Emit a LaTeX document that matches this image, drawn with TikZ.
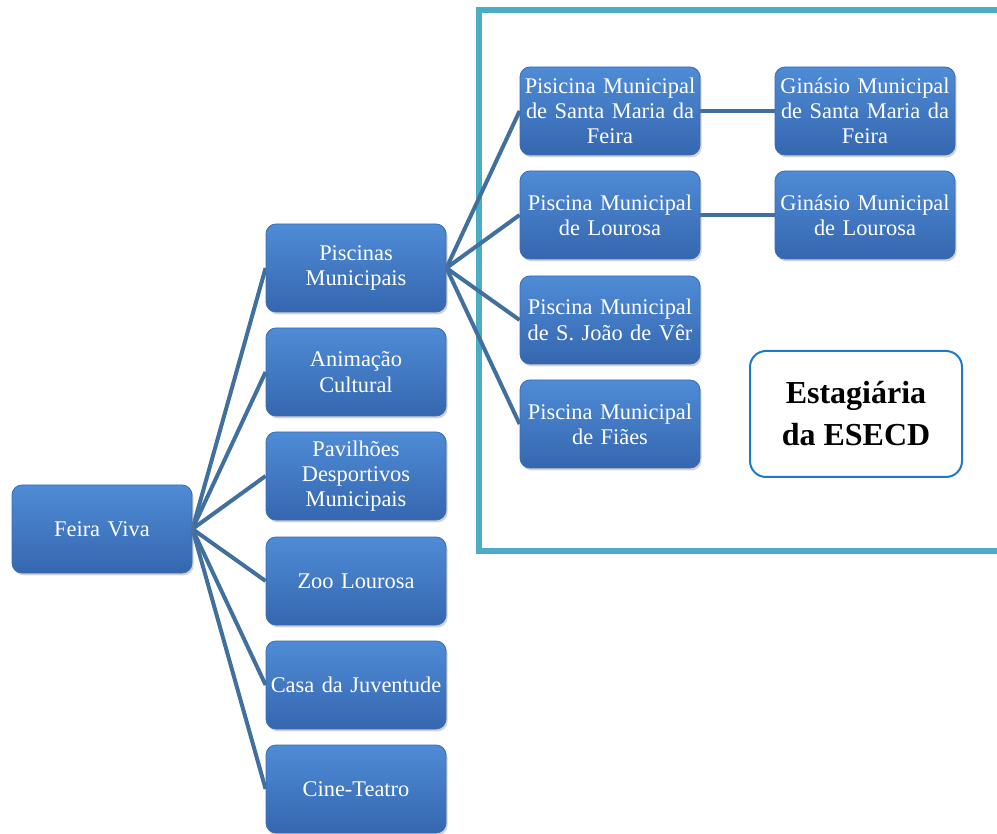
\documentclass[tikz,border=0pt]{standalone}
\usepackage{fontspec}
\setmainfont{Liberation Serif}
\usetikzlibrary{shadows,backgrounds}
\definecolor{boxtop}{HTML}{4F8BD6}
\definecolor{boxbot}{HTML}{3567AF}
\definecolor{boxedge}{HTML}{3A6CB0}
\definecolor{connc}{HTML}{41709E}
\definecolor{framec}{HTML}{4BACC6}
\definecolor{noteedge}{HTML}{1F78C8}
\tikzset{
  unit/.style={x=0.5pt,y=-0.5pt},
  bluebox/.style={rectangle, rounded corners=5pt, top color=boxtop, bottom color=boxbot,
    draw=boxedge, line width=0.4pt, minimum width=90pt, minimum height=44pt,
    text width=89pt, inner sep=0.5pt, align=center, text=white,
    font=\fontsize{11.2}{12.6}\selectfont,
    drop shadow={opacity=0.35, shadow xshift=0.8pt, shadow yshift=-1.2pt}},
  conn/.style={draw=connc, line width=2pt},
  framebox/.style={draw=framec, line width=3pt},
  notebox/.style={rectangle, rounded corners=8pt, draw=noteedge, line width=1pt,
    fill=white, minimum width=106pt, minimum height=63pt, align=center,
    font=\fontsize{16}{21}\selectfont\bfseries}
}
\begin{document}
\begin{tikzpicture}[unit]
\useasboundingbox (0,0) rectangle (997,834);
\clip (0,0) rectangle (997,834);
% nodes
\node[bluebox] (fv) at (102,529) {Feira Viva};
\node[bluebox] (pm) at (356,268) {Piscinas\\Municipais};
\node[bluebox] (ac) at (356,372) {Animação\\Cultural};
\node[bluebox] (pd) at (356,476) {Pavilhões\\Desportivos\\Municipais};
\node[bluebox] (zl) at (356,581) {Zoo Lourosa};
\node[bluebox] (cj) at (356,685) {Casa da Juventude};
\node[bluebox] (ct) at (356,789) {Cine-Teatro};
\node[bluebox] (p1) at (610,111) {Pisicina Municipal\\de Santa Maria da\\Feira};
\node[bluebox] (p2) at (610,215) {Piscina Municipal\\de Lourosa};
\node[bluebox] (p3) at (610,320) {Piscina Municipal\\de S. João de Vêr};
\node[bluebox] (p4) at (610,424) {Piscina Municipal\\de Fiães};
\node[bluebox] (g1) at (865,111) {Ginásio Municipal\\de Santa Maria da\\Feira};
\node[bluebox] (g2) at (865,215) {Ginásio Municipal\\de Lourosa};
\node[notebox] (note) at (856,414) {Estagiária\\da ESECD};
\begin{scope}[on background layer]
  \draw[framebox] (479,10) rectangle (1010,551);
  \foreach \c in {pm,ac,pd,zl,cj,ct} \draw[conn] (fv.east) -- (\c.west);
  \foreach \c in {p1,p2,p3,p4} \draw[conn] (pm.east) -- (\c.west);
  \draw[conn] (p1.east) -- (g1.west);
  \draw[conn] (p2.east) -- (g2.west);
\end{scope}
\end{tikzpicture}
\end{document}
